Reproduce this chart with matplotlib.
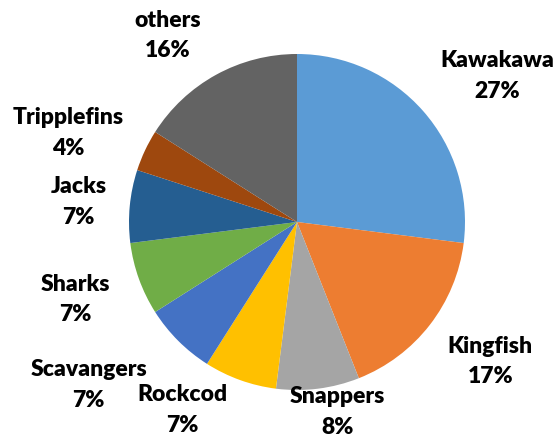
import matplotlib
matplotlib.use("Agg")
import matplotlib.pyplot as plt

categories = ["Kawakawa", "Kingfish", "Snappers", "Rockcod", "Scavangers",
              "Sharks", "Jacks", "Tripplefins", "others"]
shares = [27, 17, 8, 7, 7, 7, 7, 4, 16]
colors = ["#5B9BD5", "#ED7D31", "#A5A5A5", "#FFC000", "#4472C4",
          "#70AD47", "#255E91", "#9E480E", "#636363"]
# label anchor points (in units of the pie radius)
label_xy = [(1.19, 0.87), (1.15, -0.83), (0.24, -1.13), (-0.68, -1.12),
            (-1.24, -0.97), (-1.32, -0.46), (-1.30, 0.12), (-1.36, 0.53),
            (-0.77, 1.11)]

W, H = 560, 446
cx, cy, R = 297, 222, 168

fig = plt.figure(figsize=(W / 100, H / 100), dpi=100)
ax = fig.add_axes([0, 0, 1, 1])
ax.pie(shares, colors=colors, startangle=90, counterclock=False, radius=1,
       wedgeprops=dict(linewidth=0))
ax.set_xlim(-cx / R, (W - cx) / R)
ax.set_ylim(-(H - cy) / R, cy / R)
ax.set_aspect("equal")
ax.axis("off")

for name, val, (x, y) in zip(categories, shares, label_xy):
    ax.text(x, y, f"{name}\n{val}%", ha="center", va="center",
            fontsize=16.5, fontweight="heavy", family="Lato",
            linespacing=1.55, color="#000000")

fig.savefig("out.png", dpi=100)
